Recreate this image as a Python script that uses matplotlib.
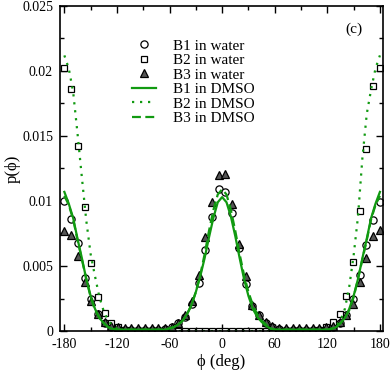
import matplotlib
matplotlib.use('Agg')
import matplotlib.pyplot as plt
import numpy as np
from matplotlib.ticker import MultipleLocator, FixedLocator, FixedFormatter

plt.rcParams['font.family'] = ['Liberation Serif', 'DejaVu Serif']

# Water data: 48 points from -180 to 180 deg.
phi_w = np.linspace(-180, 180, 48)
b1_water = [0.0100, 0.0086, 0.0068, 0.0041, 0.0025, 0.0013, 0.00065, 0.0003,
            0.00015, 0.0001, 0.0001, 0.0001, 0.0001, 0.0001, 0.0001, 0.00015,
            0.0003, 0.0006, 0.0011, 0.0021, 0.0037, 0.0062, 0.0088, 0.0109,
            0.0107, 0.0091, 0.0064, 0.0036, 0.0019, 0.0012, 0.00064, 0.0003,
            0.00015, 0.0001, 0.0001, 0.0001, 0.0001, 0.0001, 0.0001, 0.00015,
            0.0003, 0.0006, 0.0012, 0.0025, 0.0043, 0.0066, 0.0085, 0.00995]
b2_water = [0.0202, 0.0186, 0.01425, 0.0095, 0.0052, 0.0026, 0.0014, 0.0006,
            0.0003, 0.0001, 0.0, 0.0, 0.0, 0.0, 0.0, 0.0,
            0.0, 0.0, 0.0, 0.0, 0.0, 0.0, 0.0, 0.0,
            0.0, 0.0, 0.0, 0.0, 0.0, 0.0, 0.0, 0.0,
            0.0, 0.0, 0.0, 0.0, 0.0, 0.0, 0.0001, 0.0003,
            0.0007, 0.0013, 0.0027, 0.0053, 0.0092, 0.0140, 0.01885, 0.0202]
b3_water = [0.0077, 0.0074, 0.0058, 0.0038, 0.0023, 0.0013, 0.0007, 0.0004,
            0.0003, 0.0002, 0.0002, 0.0002, 0.0002, 0.0002, 0.0002, 0.0002,
            0.0003, 0.0006, 0.0012, 0.0023, 0.0043, 0.0072, 0.0099, 0.0120,
            0.0121, 0.0098, 0.0067, 0.0042, 0.0020, 0.0012, 0.0007, 0.0004,
            0.0002, 0.0002, 0.0002, 0.0002, 0.0002, 0.0002, 0.0002, 0.0003,
            0.0004, 0.0007, 0.0012, 0.0021, 0.0038, 0.0056, 0.0073, 0.0078]

# DMSO data: every 5 deg from -180 to 180 (rows of 60 deg).
phi_d = np.arange(-180, 181, 5)
b1_dmso = [0.0107, 0.0098, 0.0087, 0.0071, 0.0056, 0.0040, 0.0027, 0.0017, 0.0010, 0.0006, 0.0003, 0.00015,  # -180..-125
           0.0001, 0.0001, 0.0001, 0.0001, 0.0001, 0.0001, 0.0001, 0.0001, 0.0001, 0.0001, 0.0001, 0.0001,  # -120..-65
           0.0002, 0.0003, 0.0005, 0.0008, 0.0013, 0.0020, 0.0030, 0.0042, 0.0056, 0.0072, 0.0087, 0.0099,  # -60..-5
           0.0103, 0.0099, 0.0088, 0.0073, 0.0056, 0.0040, 0.0027, 0.0017, 0.0011, 0.0007, 0.0004, 0.0002,  # 0..55
           0.0001, 0.0001, 0.0001, 0.0001, 0.0001, 0.0001, 0.0001, 0.0001, 0.0001, 0.0001, 0.0001, 0.0001,  # 60..115
           0.0001, 0.00015, 0.0003, 0.0006, 0.0010, 0.0017, 0.0027, 0.0040, 0.0056, 0.0071, 0.0087, 0.0098,  # 120..175
           0.0107]
b2_dmso = [0.0212, 0.0202, 0.0184, 0.0152, 0.0118, 0.0085, 0.0059, 0.0042, 0.0026, 0.0015, 0.0008, 0.0004,
           0.0002, 0.0001, 0.0, 0.0, 0.0, 0.0, 0.0, 0.0, 0.0, 0.0, 0.0, 0.0,
           0.0, 0.0, 0.0, 0.0, 0.0, 0.0, 0.0, 0.0, 0.0, 0.0, 0.0, 0.0,
           0.0, 0.0, 0.0, 0.0, 0.0, 0.0, 0.0, 0.0, 0.0, 0.0, 0.0, 0.0,
           0.0, 0.0, 0.0, 0.0, 0.0, 0.0, 0.0, 0.0, 0.0, 0.0, 0.0, 0.0,
           0.0001, 0.0002, 0.0004, 0.0008, 0.0017, 0.0034, 0.0058, 0.0088, 0.0133, 0.0167, 0.0186, 0.0202,
           0.0212]
b3_dmso = [0.0104, 0.0097, 0.0086, 0.0070, 0.0055, 0.0040, 0.0026, 0.0016, 0.0010, 0.0006, 0.0003, 0.00015,
           0.0001, 0.0001, 0.0001, 0.0001, 0.0001, 0.0001, 0.0001, 0.0001, 0.0001, 0.0001, 0.0001, 0.0001,
           0.0002, 0.0003, 0.0005, 0.0008, 0.0013, 0.0020, 0.0030, 0.0043, 0.0059, 0.0077, 0.0093, 0.0105,
           0.0109, 0.0105, 0.0093, 0.0077, 0.0059, 0.0043, 0.0030, 0.0020, 0.0013, 0.0008, 0.0005, 0.0002,
           0.0001, 0.0001, 0.0001, 0.0001, 0.0001, 0.0001, 0.0001, 0.0001, 0.0001, 0.0001, 0.0001, 0.0001,
           0.0001, 0.00015, 0.0003, 0.0006, 0.0010, 0.0016, 0.0026, 0.0040, 0.0055, 0.0070, 0.0086, 0.0097,
           0.0104]

ytick_vals = [0, 0.005, 0.01, 0.015, 0.02, 0.025]
ytick_labels = ['0', '0.005', '0.01', '0.015', '0.02', '0.025']
xtick_vals = [-180, -120, -60, 0, 60, 120, 180]
xtick_labels = ['-180', '-120', '-60', '0', '60', '120', '180']

green = '#119a11'

fig = plt.figure(figsize=(3.92, 3.70), dpi=100)
ax = fig.add_axes([0.153, 0.1054, 0.824, 0.8784])

ax.plot(phi_w, b1_water, linestyle='none', marker='o', markersize=5.2,
        markerfacecolor='white', markeredgecolor='black', markeredgewidth=0.9,
        label='B1 in water')
ax.plot(phi_w, b2_water, linestyle='none', marker='s', markersize=4.5,
        markerfacecolor='white', markeredgecolor='black', markeredgewidth=0.9,
        label='B2 in water')
ax.plot(phi_w, b3_water, linestyle='none', marker='^', markersize=5.2,
        markerfacecolor='#555555', markeredgecolor='black', markeredgewidth=0.9,
        label='B3 in water')
ax.plot(phi_d, b1_dmso, color=green, lw=1.6, label='B1 in DMSO')
ax.plot(phi_d, b2_dmso, color=green, lw=1.6, linestyle=(0, (1, 2.6)), label='B2 in DMSO')
ax.plot(phi_d, b3_dmso, color=green, lw=1.6, linestyle=(0, (4, 2)), label='B3 in DMSO')

ax.set_xlim(-185, 183.5)
ax.set_ylim(0, 0.025)
ax.xaxis.set_major_locator(FixedLocator(xtick_vals))
ax.xaxis.set_major_formatter(FixedFormatter(xtick_labels))
ax.xaxis.set_minor_locator(MultipleLocator(30))
ax.yaxis.set_major_locator(FixedLocator(ytick_vals))
ax.yaxis.set_major_formatter(FixedFormatter(ytick_labels))
ax.yaxis.set_minor_locator(MultipleLocator(0.0025))
ax.tick_params(which='both', direction='in', top=True, right=True, labelsize=10, width=1)
ax.tick_params(which='major', length=5, pad=5)
ax.tick_params(which='minor', length=3)
for s in ax.spines.values():
    s.set_linewidth(1.2)

ax.set_xlabel('ϕ (deg)', fontsize=12, labelpad=2)
ax.set_ylabel('p(ϕ)', fontsize=12, labelpad=1)
ax.text(0.91, 0.929, '(c)', transform=ax.transAxes, fontsize=11, ha='center', va='center')

ax.legend(loc='upper left', bbox_to_anchor=(0.204, 0.917), frameon=False, fontsize=11,
          handlelength=1.6, handletextpad=1.1, labelspacing=0.05, borderaxespad=0)

fig.savefig('out.png', dpi=100)
